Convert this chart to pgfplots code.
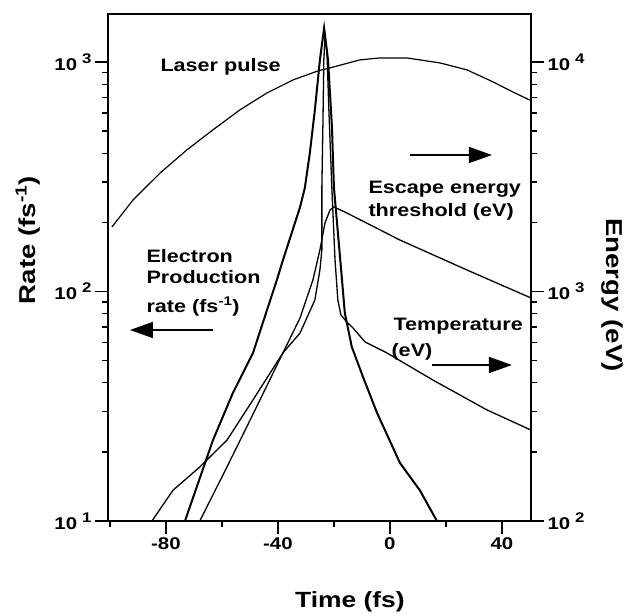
\documentclass[border=0pt]{standalone}
\usepackage{fontspec}
\setmainfont{Liberation Sans}[FakeStretch=1.2]
\usepackage{pgfplots}
\pgfplotsset{compat=1.18}
\usetikzlibrary{arrows.meta}

\newcommand{\fs}[1]{\fontsize{#1}{#1}\selectfont}
\newcommand{\dec}[1]{10\hspace{5pt}\raisebox{7pt}{\fs{14}#1}}

\pgfplotsset{
  frameaxis/.style={
    width=423pt, height=507pt, scale only axis,
    xmin=-100.7, xmax=50.4,
    tick align=outside,
    major tick length=13pt, minor tick length=6pt,
    every major tick/.append style={line width=1.5pt, black},
    every minor tick/.append style={line width=1.3pt, black},
    axis line style={line width=1.5pt},
    font=\bfseries\fs{17},
    clip=false,
  },
}

\begin{document}
\begin{tikzpicture}
% left axis: rates
\begin{axis}[frameaxis, ymode=log,
  ymin=10, ymax=1618,
  xtick={-80,-40,0,40}, xticklabels={-80,-40,0,40},
  minor xtick={-100,-60,-20,20},
  ytick={10,100,1000}, yticklabels={\dec{1},\dec{2},\dec{3}},
  minor ytick={20,30,40,50,60,70,80,90,200,300,400,500,600,700,800,900},
  xtick pos=bottom, ytick pos=left,
]
% laser pulse
\addplot[line width=1.2pt] coordinates {
  (-99.3,191) (-91.8,250) (-82.1,328) (-72.5,414) (-63.2,506)
  (-53.6,618) (-43.9,733) (-34.6,835) (-25.7,914) (-21.4,942)
  (-10.7,1021) (-3.6,1041) (6.1,1041) (17.9,990) (27.5,924)
  (36.8,819) (43.9,740) (50.0,682)
};
% electron production rate
\addplot[line width=2pt] coordinates {
  (-73.2,10) (-63.2,22.5) (-56.1,36.1) (-48.9,54.0) (-43.9,83.0)
  (-40.4,112) (-38.2,137) (-32.1,233) (-30.4,282) (-28.6,401)
  (-26.8,618) (-25.0,1021) (-23.5,1406) (-22.1,1021) (-20.7,521)
  (-20.0,285) (-17.1,112) (-16.1,80.5) (-13.6,57.3) (-9.6,42.4)
  (-4.6,29.6) (3.6,17.9) (10.7,13.6) (16.8,10)
};

\node[anchor=base west, font=\bfseries\fs{18}] at (rel axis cs:0.1158,0.8856) {Laser pulse};
\node[anchor=base west, font=\bfseries\fs{18}] at (rel axis cs:0.0827,0.5108) {Electron};
\node[anchor=base west, font=\bfseries\fs{18}] at (rel axis cs:0.0827,0.4675) {Production};
\node[anchor=base west, font=\bfseries\fs{18}] at (rel axis cs:0.0827,0.4120) {rate (fs\textsuperscript{-1})};
\node[anchor=base west, font=\bfseries\fs{18}] at (rel axis cs:0.6076,0.6450) {Escape energy};
\node[anchor=base west, font=\bfseries\fs{18}] at (rel axis cs:0.6076,0.5996) {threshold (eV)};
\node[anchor=base west, font=\bfseries\fs{18}] at (rel axis cs:0.6667,0.3748) {Temperature};
\node[anchor=base west, font=\bfseries\fs{18}] at (rel axis cs:0.6620,0.3254) {(eV)};

\draw[line width=1.5pt, -{Triangle[length=23pt,width=16pt]}]
  (rel axis cs:0.2482,0.3767) -- (rel axis cs:0.052,0.3767);
\draw[line width=1.5pt, -{Triangle[length=23pt,width=16pt]}]
  (rel axis cs:0.714,0.7219) -- (rel axis cs:0.9078,0.7219);
\draw[line width=1.5pt, -{Triangle[length=23pt,width=16pt]}]
  (rel axis cs:0.766,0.3077) -- (rel axis cs:0.955,0.3077);

\node[rotate=90, font=\bfseries\fs{23}] at (rel axis cs:-0.189,0.554) {Rate (fs\textsuperscript{-1})};
\node[rotate=-90, font=\bfseries\fs{23}] at (rel axis cs:1.1915,0.4458) {Energy (eV)};
\node[font=\bfseries\fs{22}] at (rel axis cs:0.572,-0.160) {Time (fs)};

\path (rel axis cs:-0.2553,-0.1834) rectangle (rel axis cs:1.2317,1.0276);
\end{axis}

% right axis: energies
\begin{axis}[frameaxis, ymode=log,
  ymin=100, ymax=16180,
  axis x line=none, axis y line*=right,
  ytick={100,1000,10000}, yticklabels={\dec{2},\dec{3},\dec{4}},
  minor ytick={200,300,400,500,600,700,800,900,2000,3000,4000,5000,6000,7000,8000,9000},
]
% temperature
\addplot[line width=1.3pt] coordinates {
  (-85.0,100) (-77.5,136) (-67.9,172) (-58.2,225) (-48.9,337)
  (-38.2,540) (-32.1,659) (-26.8,918) (-25.0,1241) (-24.3,1517)
  (-24.3,2851) (-23.9,5585) (-23.6,10210) (-23.2,12700) (-22.5,11270)
  (-21.8,6180) (-20.7,2767) (-19.6,1371) (-18.6,918) (-17.5,791)
  (-15.4,736) (-13.2,694) (-8.9,603) (-1.1,540) (15.4,411)
  (34.6,305) (50.4,249)
};
% escape energy threshold
\addplot[line width=1.3pt] coordinates {
  (-67.9,100) (-58.2,172) (-48.9,292) (-38.2,540) (-32.1,767)
  (-27.5,1122) (-25.0,1517) (-23.2,1987) (-21.4,2264) (-20.0,2334)
  (-16.1,2220) (3.6,1675) (27.5,1241) (50.4,937)
};
\end{axis}
\end{tikzpicture}
\end{document}
